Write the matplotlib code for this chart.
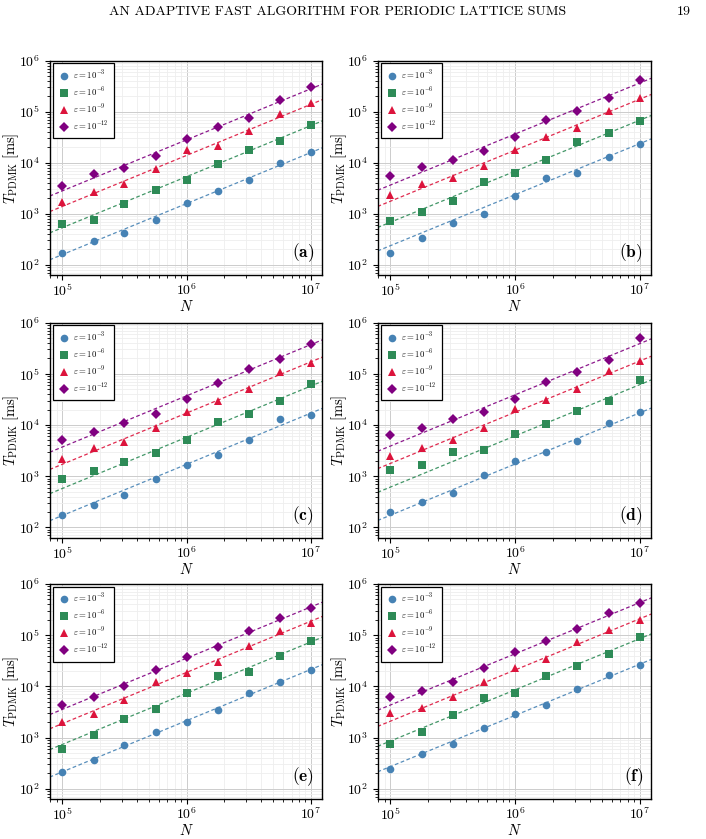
"""
Timing of PDMK vs number of particles N for four tolerances,
six test cases (a)-(f), with linear-scaling reference fits.
"""

import numpy as np
import matplotlib
matplotlib.use("Agg")
import matplotlib.pyplot as plt

plt.rcParams['font.family'] = ['cmr10', 'DejaVu Serif']
plt.rcParams['mathtext.fontset'] = 'cm'
plt.rcParams['axes.formatter.use_mathtext'] = True
plt.rcParams['axes.unicode_minus'] = False

N = [1e5, 1.78e5, 3.16e5, 5.62e5, 1e6, 1.78e6, 3.16e6, 5.62e6, 1e7]

eps_labels = [r'$\varepsilon = 10^{-3}$', r'$\varepsilon = 10^{-6}$',
              r'$\varepsilon = 10^{-9}$', r'$\varepsilon = 10^{-12}$']
colors = ['#4682B4', '#2E8B57', '#DC143C', '#800080']
markers = ['o', 's', '^', 'D']
panel_labels = ['a', 'b', 'c', 'd', 'e', 'f']

# timings in ms, one list per tolerance
a_e3 = [170, 290, 430, 750, 1660, 2750, 4700, 9700, 16000]
a_e6 = [620, 770, 1590, 2950, 4500, 9500, 18000, 27000, 56000]
a_e9 = [1730, 2630, 3900, 7700, 18000, 21700, 42000, 89000, 148000]
a_e12 = [3550, 6000, 8000, 13400, 29500, 50000, 77000, 173000, 300000]

b_e3 = [174, 343, 675, 1000, 2200, 5100, 6400, 13000, 23700]
b_e6 = [715, 1070, 1770, 4150, 6200, 11200, 25000, 37900, 65000]
b_e9 = [2340, 3850, 5100, 8500, 17800, 32000, 49000, 103000, 190000]
b_e12 = [5600, 8100, 11200, 17300, 31600, 70000, 102000, 190000, 420000]

c_e3 = [174, 269, 428, 875, 1670, 2580, 5200, 13000, 15600]
c_e6 = [890, 1280, 1910, 2860, 5200, 11500, 16700, 29000, 63500]
c_e9 = [2150, 3630, 4770, 8700, 18100, 29700, 51000, 110000, 165000]
c_e12 = [5130, 7480, 11000, 16800, 32500, 65000, 126000, 192000, 390000]

d_e3 = [202, 316, 480, 1050, 1960, 2940, 4940, 11000, 17900]
d_e6 = [1330, 1690, 3030, 3250, 6770, 10600, 19000, 29700, 76000]
d_e9 = [2490, 3500, 5030, 8760, 20200, 30700, 50600, 116000, 178000]
d_e12 = [6300, 8600, 13300, 17700, 31600, 70000, 108000, 190000, 510000]

e_e3 = [217, 366, 725, 1260, 2050, 3480, 7550, 12300, 20800]
e_e6 = [597, 1135, 2290, 3560, 7300, 16300, 19500, 38800, 76000]
e_e9 = [2060, 2900, 5400, 12100, 18200, 30600, 61800, 120000, 174000]
e_e12 = [4400, 6200, 10000, 21000, 38000, 57700, 123000, 213000, 338000]

f_e3 = [241, 485, 740, 1550, 2850, 4400, 8750, 17000, 26500]
f_e6 = [750, 1280, 2740, 5850, 7300, 16300, 25600, 43800, 93500]
f_e9 = [3000, 3800, 6100, 12100, 23200, 34500, 72900, 124000, 196000]
f_e12 = [6100, 8200, 12000, 22400, 47000, 76000, 130000, 270000, 420000]

panels = [
    [a_e3, a_e6, a_e9, a_e12],
    [b_e3, b_e6, b_e9, b_e12],
    [c_e3, c_e6, c_e9, c_e12],
    [d_e3, d_e6, d_e9, d_e12],
    [e_e3, e_e6, e_e9, e_e12],
    [f_e3, f_e6, f_e9, f_e12],
]

# axes boxes in figure fractions
lefts = [0.0708, 0.5354]
widths = [0.3853, 0.3867]
bottoms = [0.6722, 0.3591, 0.0476]
heights = [0.2554, 0.2563, 0.2563]


def draw_panel(ax, series, label):
    xfit = np.logspace(4.85, 7.15, 50)
    logN = np.log10(N)
    for k in range(4):
        y = series[k]
        # O(N) line fitted on the large-N points
        c0 = np.mean(np.log10(y[-4:]) - logN[-4:])
        ax.plot(xfit, 10 ** (np.log10(xfit) + c0), color=colors[k],
                ls=(0, (3, 2)), lw=0.9, alpha=0.9, zorder=2)
        ax.plot(N, y, ls='none', marker=markers[k], color=colors[k],
                ms=5.5 if markers[k] != 'D' else 4.8, mew=0, zorder=3,
                label=eps_labels[k])
    ax.set_xscale('log')
    ax.set_yscale('log')
    ax.set_xlim(10 ** 4.9, 10 ** 7.09)
    ax.set_ylim(10 ** 1.8, 1e6)
    ax.set_yticks([1e2, 1e3, 1e4, 1e5, 1e6])
    ax.grid(True, which='major', color='#cccccc', lw=0.7)
    ax.grid(True, which='minor', color='#eeeeee', lw=0.6)
    ax.set_axisbelow(True)
    for s in ax.spines.values():
        s.set_linewidth(1.0)
    ax.tick_params(axis='both', which='major', labelsize=10, length=3.5)
    ax.tick_params(axis='x', which='major', pad=2)
    ax.tick_params(axis='both', which='minor', length=2)
    ax.set_xlabel(r'$N$', fontsize=10.5, labelpad=0)
    ax.set_ylabel(r'$T_{\mathrm{PDMK}}\;[\mathrm{ms}]$', fontsize=10.5, labelpad=-1)
    leg = ax.legend(loc='upper left', fontsize=6.3, fancybox=False,
                    framealpha=1, edgecolor='black', borderpad=0.6,
                    labelspacing=0.45, handletextpad=0.3, handlelength=1.4,
                    borderaxespad=0.3)
    leg.get_frame().set_linewidth(0.9)
    ax.text(0.97, 0.05, r'$\mathbf{(%s)}$' % label, transform=ax.transAxes,
            ha='right', va='bottom', fontsize=12.5)


fig = plt.figure(figsize=(7.06, 8.39), dpi=100)
fig.text(0.478, 0.986, 'AN ADAPTIVE FAST ALGORITHM FOR PERIODIC LATTICE SUMS',
         ha='center', va='center', fontsize=10)
fig.text(0.968, 0.986, '19', ha='center', va='center', fontsize=10)

for i in range(6):
    r, c = i // 2, i % 2
    ax = fig.add_axes([lefts[c], bottoms[r], widths[c], heights[r]])
    draw_panel(ax, panels[i], panel_labels[i])

plt.savefig("out.png", dpi=100)
